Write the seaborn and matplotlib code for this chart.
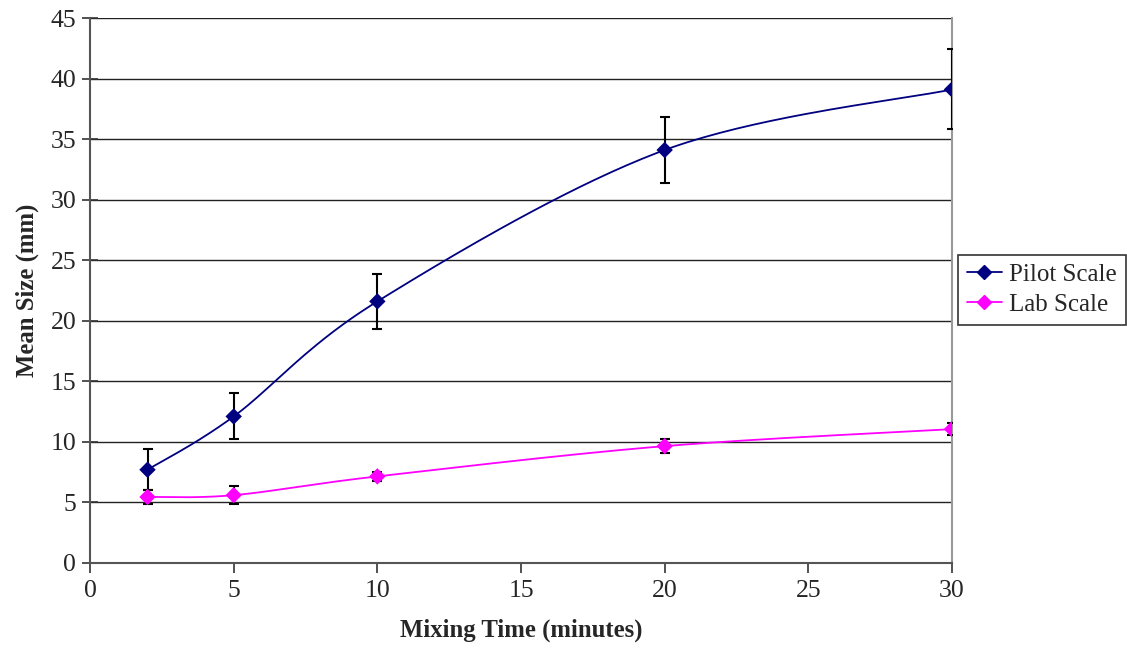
import numpy as np
import pandas as pd
import matplotlib
matplotlib.use("Agg")
import matplotlib.pyplot as plt
from matplotlib.lines import Line2D
import seaborn as sns

# Data
mixing_time = [2, 5, 10, 20, 30]
pilot_mean = [7.7, 12.1, 21.6, 34.1, 39.1]
pilot_err = [1.7, 1.9, 2.3, 2.7, 3.3]
lab_mean = [5.45, 5.6, 7.15, 9.65, 11.05]
lab_err = [0.55, 0.75, 0.4, 0.55, 0.5]

PILOT_COLOR = "#000080"
LAB_COLOR = "#FF00FF"


def smooth_curve(x, y, n=40):
    """Excel-style smoothed line: Catmull-Rom segments drawn as cubic Beziers."""
    pts = np.column_stack([np.asarray(x, float), np.asarray(y, float)])
    out = []
    for i in range(len(pts) - 1):
        p0 = pts[max(i - 1, 0)]
        p1 = pts[i]
        p2 = pts[i + 1]
        p3 = pts[min(i + 2, len(pts) - 1)]
        c1 = p1 + (p2 - p0) / 6.0
        c2 = p2 - (p3 - p1) / 6.0
        t = np.linspace(0, 1, n)[:, None]
        seg = ((1 - t) ** 3) * p1 + 3 * ((1 - t) ** 2) * t * c1 + 3 * (1 - t) * t ** 2 * c2 + t ** 3 * p2
        out.append(seg if i == 0 else seg[1:])
    seg = np.vstack(out)
    return seg[:, 0], seg[:, 1]


sns.set_theme(style="white")
plt.rcParams["font.family"] = ["Liberation Serif", "DejaVu Serif"]

fig = plt.figure(figsize=(11.27, 6.57), dpi=100)
ax = fig.add_axes([0.0799, 0.1431, 0.7648, 0.8295])

palette = {"Pilot Scale": PILOT_COLOR, "Lab Scale": LAB_COLOR}

# smoothed lines
curves = []
for name, ys in [("Pilot Scale", pilot_mean), ("Lab Scale", lab_mean)]:
    sx, sy = smooth_curve(mixing_time, ys)
    curves.append(pd.DataFrame({"time": sx, "size": sy, "series": name}))
curve_df = pd.concat(curves, ignore_index=True)

sns.lineplot(data=curve_df, x="time", y="size", hue="series", sort=False,
             palette=palette, linewidth=1.3, legend=False, ax=ax, zorder=3)

# error bars
ax.errorbar(mixing_time, pilot_mean, yerr=pilot_err, fmt="none", ecolor="black",
            elinewidth=1.5, capsize=3.6, capthick=1.5, zorder=4)
ax.errorbar(mixing_time, lab_mean, yerr=lab_err, fmt="none", ecolor="black",
            elinewidth=1.5, capsize=3.6, capthick=1.5, zorder=4)

# markers
points = pd.DataFrame({
    "time": mixing_time * 2,
    "size": pilot_mean + lab_mean,
    "series": ["Pilot Scale"] * len(mixing_time) + ["Lab Scale"] * len(mixing_time),
})
sns.scatterplot(data=points, x="time", y="size", hue="series", marker="D", s=70,
                palette=palette, edgecolor="none", legend=False, ax=ax, zorder=5)

ax.set_xlim(0, 30)
ax.set_ylim(0, 45)
ax.set_xticks(range(0, 31, 5))
ax.set_yticks(range(0, 46, 5))
ax.yaxis.grid(True, color="#222222", linewidth=1.0)
ax.set_axisbelow(True)

for side in ["left", "bottom"]:
    ax.spines[side].set_color("#555555")
    ax.spines[side].set_linewidth(1.5)
ax.spines["right"].set_color("#999999")
ax.spines["right"].set_linewidth(1.5)
ax.spines["top"].set_visible(False)

ax.tick_params(axis="y", direction="inout", length=12, width=1.2, color="#333333",
               labelsize=18.5, pad=4, left=True)
ax.tick_params(axis="x", direction="out", length=7, width=1.2, color="#333333",
               labelsize=18.5, pad=5, bottom=True)

ax.set_xlabel("Mixing Time (minutes)", fontsize=17.8, fontweight="bold", labelpad=12)
ax.set_ylabel("Mean Size (mm)", fontsize=17.8, fontweight="bold", labelpad=8)

handles = [
    Line2D([0], [0], color=PILOT_COLOR, marker="D", markersize=7, linewidth=1.3),
    Line2D([0], [0], color=LAB_COLOR, marker="D", markersize=7, linewidth=1.3),
]
leg = fig.legend(handles, ["Pilot Scale", "Lab Scale"], loc="upper left",
                 bbox_to_anchor=(958 / 1127, 1 - 255 / 657), frameon=True,
                 fancybox=False, fontsize=18, handlelength=1.4, borderpad=0.35,
                 borderaxespad=0, labelspacing=0.3, handletextpad=0.3)
leg.get_frame().set_edgecolor("black")
leg.get_frame().set_linewidth(1.2)

fig.savefig("out.png", dpi=100, facecolor="white")
